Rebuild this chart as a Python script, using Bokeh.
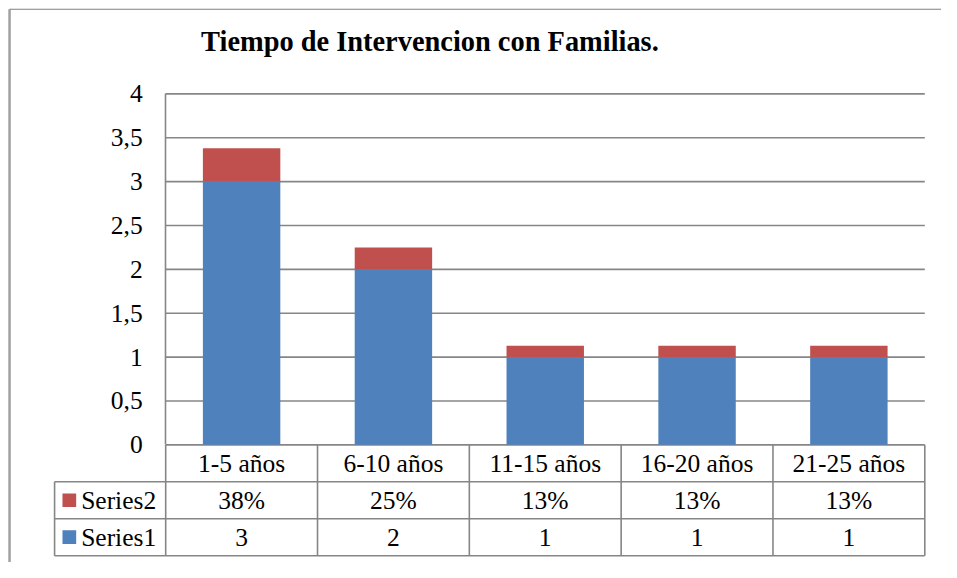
from bokeh.plotting import figure
from bokeh.models import Range1d, LinearAxis, FixedTicker, CustomJSTickFormatter
from bokeh.core.properties import value
from bokeh.embed import file_html
from bokeh.resources import INLINE

# ---------------- data ----------------
title_text = "Tiempo de Intervencion con Familias."
categories = ["1-5 años", "6-10 años", "11-15 años", "16-20 años", "21-25 años"]
series_names = ["Series1", "Series2"]
series1 = [3, 2, 1, 1, 1]
series2 = [0.38, 0.25, 0.13, 0.13, 0.13]
series2_labels = ["38%", "25%", "13%", "13%", "13%"]
y_ticks = [0, 0.5, 1, 1.5, 2, 2.5, 3, 3.5, 4]

# ---------------- layout (pixels) ----------------
W, H = 941, 562
SX, SY = W / 957, H / 578
PL, PR, PT, PB = 168 * SX, 940 * SX, 96 * SY, 457 * SY   # plot area box
TABLE_LEFT = 55 * SX
ROW_PX = 38 * SY
n = len(categories)
xu = (PR - PL) / n
y_max = y_ticks[-1]
yu = (PB - PT) / y_max

FONT = "Liberation Serif"
FS = "25.5px"
BLUE = "#4F81BD"
RED = "#C0504D"
GRID = "#868686"

x0 = -PL / xu
x1 = (W - PL) / xu
y0 = -(H - PB) / yu
y1 = PB / yu

p = figure(width=W, height=H, output_backend="svg", toolbar_location=None,
           x_range=Range1d(x0, x1), y_range=Range1d(y0, y1),
           min_border=0, x_axis_type=None, y_axis_type=None)
p.outline_line_color = None
p.background_fill_color = "white"
p.border_fill_color = "white"

row = ROW_PX / yu
lc = (PL - TABLE_LEFT) / xu

# outer chart border (left and top)
bx = x0 + 9.2 * SX / xu
by = y1 - 9 * SY / yu
p.segment(x0=[bx], y0=[y0], x1=[bx], y1=[by], line_color="#a0a0a0", line_width=2.5)
p.segment(x0=[bx], y0=[by], x1=[x1], y1=[by], line_color="#808080", line_width=1.2)

# horizontal grid lines
p.segment(x0=[0] * len(y_ticks), y0=y_ticks, x1=[n] * len(y_ticks), y1=y_ticks,
          line_color=GRID, line_width=1.6)

# stacked bars
xs = [i + 0.5 for i in range(n)]
tops2 = [a + b for a, b in zip(series1, series2)]
p.vbar(x=xs, width=0.51, bottom=0, top=series1, fill_color=BLUE, line_color=None)
p.vbar(x=xs, width=0.51, bottom=series1, top=tops2, fill_color=RED, line_color=None)

# y axis at x = 0
yaxis = LinearAxis(fixed_location=0, bounds=(0, y_max),
                   ticker=FixedTicker(ticks=y_ticks),
                   formatter=CustomJSTickFormatter(code="return tick.toString().replace('.', ',')"))
yaxis.axis_line_color = GRID
yaxis.axis_line_width = 1.6
yaxis.major_tick_line_color = None
yaxis.minor_tick_line_color = None
yaxis.major_tick_out = 0
yaxis.major_tick_in = 0
yaxis.major_label_standoff = 23
yaxis.major_label_text_font = FONT
yaxis.major_label_text_font_size = FS
yaxis.major_label_text_color = "black"
p.add_layout(yaxis, "left")

# data table lines
hy = [-row, -2 * row, -3 * row]
p.segment(x0=[-lc] * 3, y0=hy, x1=[n] * 3, y1=hy, line_color=GRID, line_width=1.6)
vx = list(range(0, n + 1))
p.segment(x0=vx, y0=[-3 * row] * len(vx), x1=vx, y1=[0] * len(vx),
          line_color=GRID, line_width=1.6)
p.segment(x0=[-lc], y0=[-3 * row], x1=[-lc], y1=[-row], line_color=GRID, line_width=1.6)

# table texts
p.text(x=xs, y=[-0.5 * row] * n, text=categories, text_font=value(FONT),
       text_font_size=FS, text_align="center", text_baseline="middle", text_color="black")
p.text(x=xs, y=[-1.5 * row] * n, text=series2_labels, text_font=value(FONT),
       text_font_size=FS, text_align="center", text_baseline="middle", text_color="black")
p.text(x=xs, y=[-2.5 * row] * n, text=[str(v) for v in series1], text_font=value(FONT),
       text_font_size=FS, text_align="center", text_baseline="middle", text_color="black")

# legend keys in table
key_x = -lc + 15 * SX / xu
p.scatter(x=[key_x, key_x], y=[-1.5 * row, -2.5 * row], marker="square", size=13.7,
          fill_color=[RED, BLUE], line_color=None)
p.text(x=[-lc + 27 * SX / xu] * 2, y=[-1.5 * row, -2.5 * row],
       text=[series_names[1], series_names[0]],
       text_font=value(FONT), text_font_size=FS, text_align="left",
       text_baseline="middle", text_color="black")

# title
p.text(x=[(204 * SX - PL) / xu], y=[(PB - 41.7 * SY) / yu], text=[title_text],
       text_font=value(FONT), text_font_size="28.4px", text_font_style="bold",
       text_align="left", text_baseline="alphabetic", text_color="black")

open("out.html", "w").write(file_html(p, INLINE))
